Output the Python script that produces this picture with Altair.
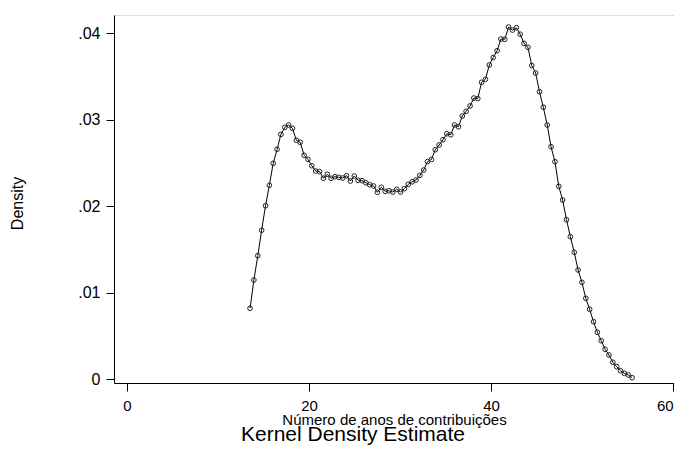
import altair as alt
import pandas as pd

years = [
    13.52, 13.94, 14.37, 14.79, 15.22, 15.64, 16.06, 16.49, 16.91, 17.34,
    17.76, 18.18, 18.61, 19.03, 19.46, 19.88, 20.30, 20.73, 21.15, 21.58,
    22.00, 22.42, 22.85, 23.27, 23.70, 24.12, 24.54, 24.97, 25.39, 25.82,
    26.24, 26.66, 27.09, 27.51, 27.94, 28.36, 28.78, 29.21, 29.63, 30.06,
    30.48, 30.90, 31.33, 31.75, 32.18, 32.60, 33.02, 33.45, 33.87, 34.30,
    34.72, 35.14, 35.57, 35.99, 36.42, 36.84, 37.26, 37.69, 38.11, 38.54,
    38.96, 39.38, 39.81, 40.23, 40.66, 41.08, 41.50, 41.93, 42.35, 42.78,
    43.20, 43.62, 44.05, 44.47, 44.90, 45.32, 45.74, 46.17, 46.59, 47.02,
    47.44, 47.86, 48.29, 48.71, 49.14, 49.56, 49.98, 50.41, 50.83, 51.26,
    51.68, 52.10, 52.53, 52.95, 53.38, 53.80, 54.22, 54.65, 55.07, 55.50,
]

density = [
    0.00821, 0.01148, 0.01429, 0.01723, 0.02007, 0.02243, 0.02497, 0.02659, 0.02832, 0.02913,
    0.02940, 0.02902, 0.02763, 0.02740, 0.02590, 0.02543, 0.02469, 0.02408, 0.02402, 0.02324,
    0.02370, 0.02324, 0.02342, 0.02335, 0.02327, 0.02354, 0.02292, 0.02350, 0.02301, 0.02296,
    0.02273, 0.02250, 0.02235, 0.02162, 0.02220, 0.02173, 0.02180, 0.02165, 0.02197, 0.02165,
    0.02204, 0.02254, 0.02284, 0.02304, 0.02358, 0.02420, 0.02518, 0.02541, 0.02654, 0.02709,
    0.02770, 0.02839, 0.02828, 0.02940, 0.02920, 0.03044, 0.03098, 0.03160, 0.03252, 0.03246,
    0.03434, 0.03469, 0.03634, 0.03720, 0.03799, 0.03934, 0.03931, 0.04073, 0.04038, 0.04065,
    0.03990, 0.03884, 0.03839, 0.03628, 0.03541, 0.03325, 0.03145, 0.02940, 0.02689, 0.02516,
    0.02231, 0.02073, 0.01845, 0.01649, 0.01468, 0.01264, 0.01121, 0.00936, 0.00809, 0.00666,
    0.00543, 0.00446, 0.00347, 0.00281, 0.00197, 0.00146, 0.00099, 0.00069, 0.00050, 0.00018,
]

x_ticks = [0, 20, 40, 60]
y_ticks = [0, 0.01, 0.02, 0.03, 0.04]
caption = ["Kernel Density Estimate"]

df = pd.DataFrame({"x": years, "y": density})
cap_df = pd.DataFrame({"t": caption})

FONT = "Liberation Sans"

x_axis = alt.Axis(
    values=x_ticks,
    title="Número de anos de contribuições",
    titleFont=FONT, titleFontSize=15, titleFontWeight="normal", titleColor="black",
    titleBaseline="alphabetic", titleY=41,
    labelFont=FONT, labelFontSize=15, labelColor="black", labelPadding=7,
    tickSize=8, tickColor="black", domainColor="black", grid=False,
    labelFlush=3,
)
y_axis = alt.Axis(
    values=y_ticks,
    title="Density",
    titleFont=FONT, titleFontSize=16, titleFontWeight="normal", titleColor="black",
    titleX=-97, titleY=188, titleBaseline="middle", titleAngle=270, titleAlign="center",
    labelFont=FONT, labelFontSize=16, labelColor="black", labelPadding=6,
    labelExpr="datum.value == 0 ? '0' : replace(format(datum.value, '.2f'), '0.', '.')",
    tickSize=8, tickColor="black", domainColor="black", grid=False,
    labelFlush=False,
)

base = alt.Chart(df).encode(
    x=alt.X("x:Q", scale=alt.Scale(domain=[-1.43, 60.1], nice=False, zero=False), axis=x_axis),
    y=alt.Y("y:Q", scale=alt.Scale(domain=[-0.00043, 0.04212], nice=False, zero=False), axis=y_axis),
)

line = base.mark_line(color="black", strokeWidth=1)
pts = base.mark_point(shape="circle", filled=False, size=22, color="#222222", strokeWidth=1, opacity=1)

cap = alt.Chart(cap_df).mark_text(
    font=FONT, fontSize=21, color="black", align="center", baseline="alphabetic"
).encode(text="t:N", x=alt.value(239), y=alt.value(425.5))

chart = (line + pts + cap).properties(
    width=560,
    height=368,
    padding={"left": 106, "top": 7, "right": 0, "bottom": 62},
    autosize=alt.AutoSizeParams(type="none"),
).configure_view(stroke=None).configure(background="white")

chart.save("out.html", embed_options={"renderer": "svg", "actions": False})
